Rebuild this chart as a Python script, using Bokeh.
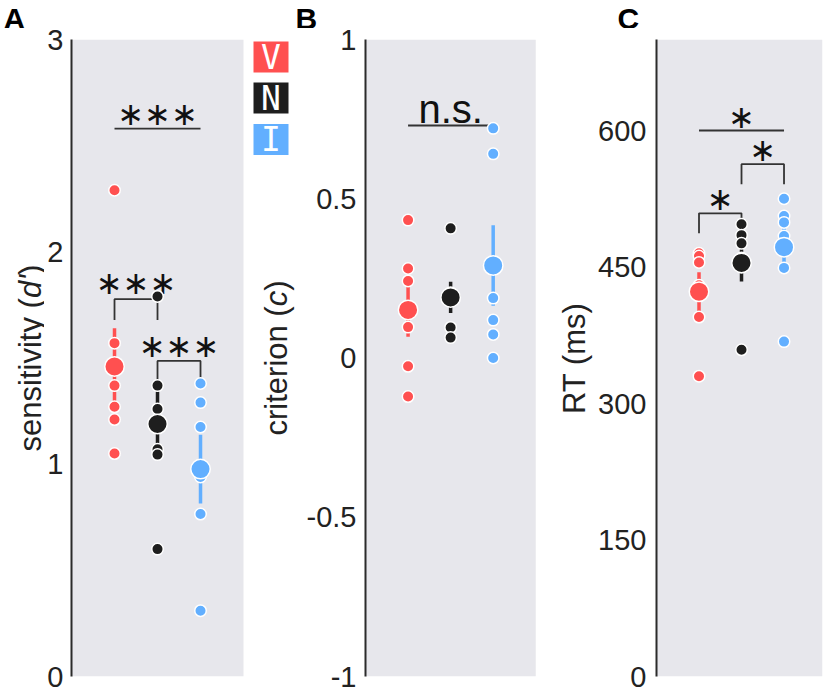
from math import pi
import numpy as np
from bokeh.plotting import figure
from bokeh.layouts import row, column
from bokeh.models import Range1d, FixedTicker, BoxAnnotation, CustomJSTickFormatter
from bokeh.core.properties import value
from bokeh.embed import file_html
from bokeh.resources import INLINE

# ---------------- data ----------------
conditions = ["V", "N", "I"]
cond_x = [1, 2, 3]
cond_colors = ["#FF5050", "#1E1E1E", "#62AFFF"]

dprime_V = [2.29, 1.57, 1.37, 1.27, 1.21, 1.05]
dprime_N = [1.79, 1.37, 1.26, 1.07, 1.045, 0.60]
dprime_I = [1.38, 1.29, 1.175, 0.94, 0.765, 0.31]

crit_V = [0.433, 0.281, 0.242, 0.097, -0.026, -0.121]
crit_N = [0.407, 0.205, 0.19, 0.18, 0.096, 0.064]
crit_I = [0.721, 0.641, 0.188, 0.119, 0.074, 0.0]

rt_V = [465, 462, 455, 430, 395, 330]
rt_N = [497, 485, 476, 460, 450, 359]
rt_I = [525, 506, 499, 484, 449, 368]

sens_ticks = [0, 1, 2, 3]
crit_ticks = [-1, -0.5, 0, 0.5, 1]
rt_ticks = [0, 150, 300, 450, 600]

sens_range = (0, 3)
crit_range = (-1, 1)
rt_range = (0, 700)

panel_letters = ["A", "B", "C"]
sens_label = [("sensitivity (", "normal"), ("d'", "italic"), (")", "normal")]
crit_label = [("criterion (", "normal"), ("c", "italic"), (")", "normal")]
rt_label = [("RT (ms)", "normal")]

# significance annotations
sens_sig_x0 = [1, 1, 2]
sens_sig_x1 = [3, 2, 3]
sens_sig_top = [2.58, 1.777, 1.486]
sens_sig_base = [2.58, 1.679, 1.383]
sens_sig_text = ["∗∗∗", "∗∗∗", "∗∗∗"]
sens_sig_text_y = [2.648, 1.852, 1.558]

crit_sig_x0 = [1]
crit_sig_x1 = [3]
crit_sig_top = [0.73]
crit_sig_base = [0.73]
crit_sig_text = ["n.s."]
crit_sig_text_y = [0.782]

rt_sig_x0 = [1, 2, 1]
rt_sig_x1 = [3, 3, 2]
rt_sig_top = [600, 563, 509]
rt_sig_base = [600, 541, 487]
rt_sig_text = ["∗", "∗", "∗"]
rt_sig_text_y = [615, 579, 525]

# ---------------- layout / style ----------------
GRAY = "#E7E7EC"
STRIP_H = 28
ROW_H = 660
TOP, BOTTOM = 11, 12
FRAME_H = ROW_H - TOP - BOTTOM          # 637
FRAME_BOTTOM_PAGE = STRIP_H + TOP + FRAME_H   # 676
FONT = "Liberation Sans"
TICK_SIZE = "29px"
LABEL_SIZE = 31

WID = {'s': 500, 'e': 556, 'n': 556, 'i': 222, 't': 278, 'v': 500, 'y': 500, ' ': 278,
       '(': 333, ')': 333, 'd': 556, "'": 191, 'c': 500, 'r': 333, 'o': 556, 'R': 722,
       'T': 611, 'm': 833}


def text_w(t, size):
    return sum(WID.get(ch, 556) for ch in t) / 1000.0 * size


def bare(width, height, top, bottom):
    # plain drawing area; its frame is (width) x (height - top - bottom) px, 1 data unit = 1 px
    p = figure(width=width, height=height, x_range=Range1d(0, width),
               y_range=Range1d(0, height - top - bottom),
               output_backend="svg", toolbar_location=None, title=None,
               min_border_left=0, min_border_right=0, min_border_top=top, min_border_bottom=bottom)
    p.axis.visible = False
    p.grid.visible = False
    p.outline_line_color = None
    p.background_fill_color = "white"
    p.border_fill_color = "white"
    return p


def make_panel(width, left, ppu_x, gray_right, yr, ticks, standoff):
    frame_w = width - left
    p = figure(width=width, height=ROW_H, x_range=Range1d(0, frame_w / ppu_x),
               y_range=Range1d(*yr), output_backend="svg", toolbar_location=None, title=None,
               min_border_left=left, min_border_right=0,
               min_border_top=TOP, min_border_bottom=BOTTOM)
    p.xaxis.visible = False
    p.grid.visible = False
    p.outline_line_color = None
    p.background_fill_color = "white"
    p.border_fill_color = "white"
    p.add_layout(BoxAnnotation(left=0, right=gray_right, fill_color=GRAY, fill_alpha=1.0,
                               line_color=None, level="underlay"))
    ax = p.yaxis[0]
    ax.ticker = FixedTicker(ticks=ticks)
    ax.formatter = CustomJSTickFormatter(code="return tick.toString()")
    ax.axis_line_width = 2
    ax.axis_line_color = "#2b2b2b"
    ax.major_tick_line_color = None
    ax.minor_tick_line_color = None
    ax.major_tick_in = 0
    ax.major_tick_out = 0
    ax.major_label_standoff = standoff
    ax.major_label_text_font = FONT
    ax.major_label_text_font_size = TICK_SIZE
    ax.major_label_text_color = "#222222"
    return p


def draw_series(p, series):
    for x, vals, col in zip(cond_x, series, cond_colors):
        vals = np.asarray(vals, dtype=float)
        m = vals.mean()
        se = vals.std(ddof=1) / np.sqrt(len(vals))
        p.segment(x0=[x], y0=[m - se], x1=[x], y1=[m + se], line_color=col, line_width=3.5)
        p.scatter(x=[x] * len(vals), y=vals, size=11.5, fill_color=col, line_color="white",
                  line_width=1.5)
        p.scatter(x=[x], y=[m], size=19.5, fill_color=col, line_color="white", line_width=1.5)


def draw_sig(p, x0s, x1s, tops, bases, texts, text_ys, font, size):
    xs, ys = [], []
    for a, b, t, bs in zip(x0s, x1s, tops, bases):
        if t == bs:
            xs.append([a, b]); ys.append([t, t])
        else:
            xs.append([a, a, b, b]); ys.append([bs, t, t, bs])
    p.multi_line(xs=xs, ys=ys, line_color="#333333", line_width=1.8)
    p.text(x=[(a + b) / 2 for a, b in zip(x0s, x1s)], y=text_ys, text=texts,
           text_font=value(font), text_font_size=size, text_align="center",
           text_baseline="middle", text_color="#111111")


def vlabel(p, center_x, parts, size):
    # vertical (rotated) axis title centred on the panel frame
    total = sum(text_w(t, size) for t, _ in parts)
    y = FRAME_H / 2 - total / 2
    for t, style in parts:
        p.text(x=[center_x], y=[y], text=[t], angle=pi / 2, text_align="left",
               text_baseline="middle", text_font=value(FONT), text_font_style=style,
               text_font_size=f"{size}px", text_color="#222222")
        y += text_w(t, size)


# ---------------- top strip with panel letters ----------------
strip = bare(828, STRIP_H, 0, 0)
strip.text(x=[3, 295, 617], y=[STRIP_H - 17.5] * 3, text=panel_letters, text_font=value(FONT),
           text_font_style="bold", text_font_size="30px", text_align="left",
           text_baseline="middle", text_color="#000000")

# ---------------- spacer columns: axis titles and legend ----------------
LA = bare(44, ROW_H, TOP, BOTTOM)
vlabel(LA, 30, sens_label, LABEL_SIZE)

LB = bare(58, ROW_H, TOP, BOTTOM)
vlabel(LB, 31, crit_label, LABEL_SIZE)
leg_y = [FRAME_BOTTOM_PAGE - 56.5, FRAME_BOTTOM_PAGE - 97.5, FRAME_BOTTOM_PAGE - 139]
LB.rect(x=[25.5] * 3, y=leg_y, width=35, height=31, fill_color=cond_colors, line_color=None)
LB.text(x=[25.5] * 3, y=leg_y, text=conditions, text_color="white",
        text_font=value("DejaVu Sans Mono"), text_font_size="33px",
        text_align="center", text_baseline="middle")

LC = bare(44, ROW_H, TOP, BOTTOM)
vlabel(LC, 23, rt_label, LABEL_SIZE)

# ---------------- panel A ----------------
pA = make_panel(201, 25, 43.5, 4.0, sens_range, sens_ticks, 8)
draw_sig(pA, sens_sig_x0, sens_sig_x1, sens_sig_top, sens_sig_base, sens_sig_text,
         sens_sig_text_y, "DejaVu Sans", "32px")
draw_series(pA, [dprime_V, dprime_N, dprime_I])

# ---------------- panel B ----------------
pB = make_panel(248, 59, 43.25, 4.0, crit_range, crit_ticks, 9)
draw_sig(pB, crit_sig_x0, crit_sig_x1, crit_sig_top, crit_sig_base, crit_sig_text,
         crit_sig_text_y, FONT, "40px")
draw_series(pB, [crit_V, crit_N, crit_I])

# ---------------- panel C ----------------
pC = make_panel(233, 59, 43.0, 3.9, rt_range, rt_ticks, 10)
draw_sig(pC, rt_sig_x0, rt_sig_x1, rt_sig_top, rt_sig_base, rt_sig_text,
         rt_sig_text_y, "DejaVu Sans", "32px")
draw_series(pC, [rt_V, rt_N, rt_I])

layout = column(strip, row(LA, pA, LB, pB, LC, pC, spacing=0), spacing=0)
open("out.html", "w").write(file_html(layout, INLINE))
